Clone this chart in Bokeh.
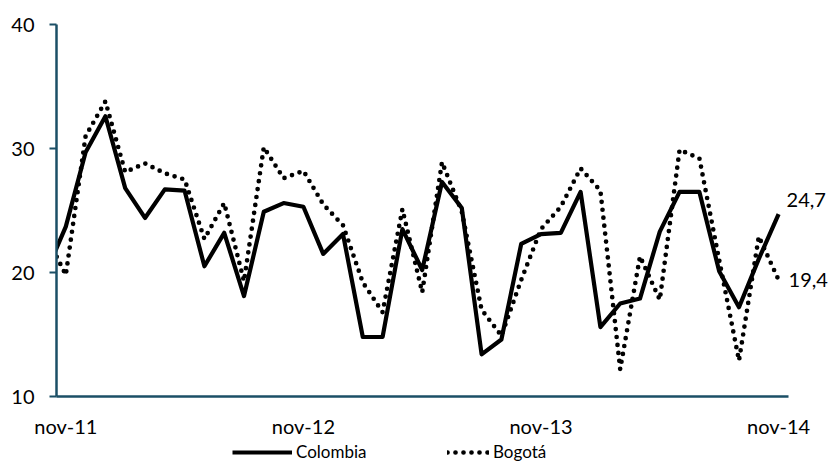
from bokeh.plotting import figure
from bokeh.layouts import column
from bokeh.models import Range1d, FixedTicker, Label, Legend, LegendItem
from bokeh.embed import file_html
from bokeh.resources import INLINE

# ---- data (monthly, oct-11 .. nov-14) ----
months = ["oct-11", "nov-11", "dic-11", "ene-12", "feb-12", "mar-12", "abr-12", "may-12",
          "jun-12", "jul-12", "ago-12", "sep-12", "oct-12", "nov-12", "dic-12", "ene-13",
          "feb-13", "mar-13", "abr-13", "may-13", "jun-13", "jul-13", "ago-13", "sep-13",
          "oct-13", "nov-13", "dic-13", "ene-14", "feb-14", "mar-14", "abr-14", "may-14",
          "jun-14", "jul-14", "ago-14", "sep-14", "oct-14", "nov-14"]
colombia = [20.0, 23.7, 29.7, 32.6, 26.8, 24.4, 26.7, 26.6, 20.5, 23.2, 18.1, 24.9, 25.6,
            25.3, 21.5, 23.1, 14.8, 14.8, 23.5, 20.2, 27.3, 25.2, 13.4, 14.6, 22.3, 23.1,
            23.2, 26.5, 15.6, 17.5, 17.9, 23.3, 26.5, 26.5, 20.1, 17.2, 21.1, 24.7]
bogota = [23.0, 19.8, 31.0, 33.8, 28.1, 28.8, 28.0, 27.5, 22.7, 25.6, 19.3, 30.1, 27.6,
          28.2, 25.5, 23.8, 19.2, 16.8, 25.1, 18.4, 28.9, 24.9, 17.0, 14.9, 19.4, 23.5,
          25.3, 28.4, 26.6, 12.2, 21.3, 17.8, 29.9, 29.2, 21.0, 12.9, 22.9, 19.4]
series_names = ["Colombia", "Bogotá"]
tick_labels = ["nov-11", "nov-12", "nov-13", "nov-14"]
y_ticks = [10, 20, 30, 40]

FONT = "Lato"
AXIS_COLOR = "#1b4f66"
W = 828

x = [i - 1 for i in range(len(months))]
tick_pos = [months.index(t) - 1 for t in tick_labels]

X_START, X_AXIS_END = -0.47, 36.5
FRAME_LEFT, FRAME_RIGHT_AXIS = 56, 788
px_per_unit = (FRAME_RIGHT_AXIS - FRAME_LEFT) / (X_AXIS_END - X_START)
x_end = X_START + (W - FRAME_LEFT) / px_per_unit

p = figure(width=W, height=440, output_backend="svg", toolbar_location=None,
           x_range=Range1d(X_START, x_end), y_range=Range1d(10, 40),
           min_border_left=FRAME_LEFT, min_border_right=0, min_border_top=24,
           min_border_bottom=42)
p.outline_line_color = None
p.xgrid.visible = False
p.ygrid.visible = False

COL_STYLE = dict(line_color="black", line_width=4.2, line_join="round")
BOG_STYLE = dict(line_color="black", line_width=4.7, line_dash="0 8",
                 line_cap="round", line_join="round")

p.line(x, colombia, **COL_STYLE)
p.line(x, bogota, **BOG_STYLE)

# y axis
yax = p.yaxis[0]
yax.ticker = FixedTicker(ticks=y_ticks)
yax.axis_line_color = AXIS_COLOR
yax.axis_line_width = 2.5
yax.major_tick_line_color = AXIS_COLOR
yax.major_tick_line_width = 2
yax.major_tick_out = 7
yax.major_tick_in = 0
yax.minor_tick_line_color = None
yax.major_label_text_font = FONT
yax.major_label_text_font_size = "20px"
yax.major_label_text_color = "#000000"
yax.major_label_standoff = 15

# x axis
xax = p.xaxis[0]
xax.bounds = (X_START, X_AXIS_END)
xax.ticker = FixedTicker(ticks=tick_pos)
xax.major_label_overrides = {pos: lab for pos, lab in zip(tick_pos, tick_labels)}
xax.axis_line_color = AXIS_COLOR
xax.axis_line_width = 2.5
xax.major_tick_line_color = None
xax.major_tick_out = 0
xax.major_tick_in = 0
xax.minor_tick_line_color = None
xax.major_label_text_font = FONT
xax.major_label_text_font_size = "20px"
xax.major_label_text_color = "#000000"
xax.major_label_standoff = 17

# end-value labels
def fmt(v):
    return f"{v:.1f}".replace(".", ",")

p.add_layout(Label(x=x[-1], y=colombia[-1], text=fmt(colombia[-1]), x_offset=8, y_offset=14,
                   text_baseline="middle", text_font=FONT, text_font_size="20px",
                   text_color="#000000"))
p.add_layout(Label(x=x[-1], y=bogota[-1], text=fmt(bogota[-1]), x_offset=10, y_offset=0,
                   text_baseline="middle", text_font=FONT, text_font_size="20px",
                   text_color="#000000"))

# legend strip below the chart (series kept out of its visible y-range)
lg = figure(width=W, height=24, output_backend="svg", toolbar_location=None,
            x_axis_type=None, y_axis_type=None, min_border=0,
            x_range=Range1d(X_START, x_end), y_range=Range1d(0, 1))
lg.outline_line_color = None
lg.xgrid.visible = False
lg.ygrid.visible = False
lr1 = lg.line(x, colombia, **COL_STYLE)
lr2 = lg.line(x, bogota, **BOG_STYLE)

common = dict(orientation="horizontal", glyph_height=18, label_height=18, padding=0, margin=0,
              border_line_color=None, background_fill_alpha=0, label_standoff=4,
              label_text_font=FONT, label_text_font_size="17px", label_text_color="#000000")
lg.add_layout(Legend(items=[LegendItem(label=series_names[0], renderers=[lr1])],
                     location=(176, 2), glyph_width=60, **common))
lg.add_layout(Legend(items=[LegendItem(label=series_names[1], renderers=[lr2])],
                     location=(391, 2), glyph_width=42, **common))

open("out.html", "w").write(file_html(column(p, lg, spacing=0), INLINE))
